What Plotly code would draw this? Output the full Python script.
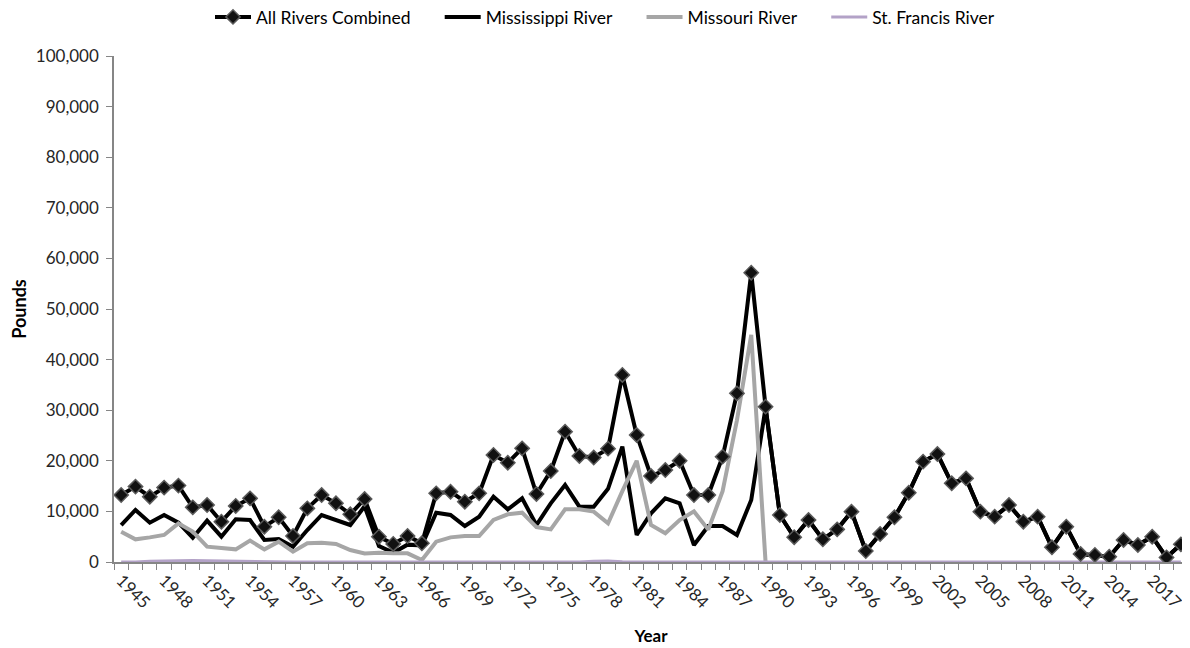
import plotly.graph_objects as go

years = list(range(1945, 2020))

all_rivers = [13240, 14900, 12900, 14700, 15100, 10800, 11260, 7960, 11070, 12580,
              6980, 8830, 5140, 10600, 13240, 11600, 9420, 12450, 5000, 3560,
              5140, 3690, 13570, 13900, 11920, 13570, 21150, 19630, 22460, 13440,
              17980, 25760, 20950, 20650, 22400, 36960, 25100, 17000, 18180, 20020,
              13240, 13240, 20820, 33330, 57180, 30700, 9290, 4900, 8300, 4480,
              6450, 9950, 2170, 5530, 8830, 13700, 19830, 21340, 15550, 16530,
              9950, 8960, 11260, 7960, 8960, 2900, 6980, 1580, 1400, 1050,
              4350, 3360, 5000, 900, 3490]

mississippi = [7310, 10280, 7770, 9290, 7770, 4800, 8170, 5000, 8430, 8300,
               4350, 4550, 3030, 6320, 9290, 8300, 7310, 11000, 3160, 1850,
               3430, 3290, 9750, 9290, 7110, 8960, 12910, 10410, 12580, 7310,
               11600, 15220, 10940, 10940, 14460, 22790, 5340, 9620, 12580, 11600,
               3360, 7110, 7110, 5340, 12250, 30500, 9290, 4900, 8300, 4480,
               6450, 9950, 2170, 5530, 8830, 13700, 19830, 21340, 15550, 16530,
               9950, 8960, 11260, 7960, 8960, 2900, 6980, 1580, 1400, 1050,
               4350, 3360, 5000, 900, 3490]

missouri = [6000, 4480, 4870, 5340, 7640, 6000, 3030, 2700, 2500, 4220,
            2500, 4020, 2040, 3690, 3820, 3560, 2370, 1700, 1840, 1710,
            1710, 400, 4020, 4870, 5140, 5140, 8300, 9420, 9750, 6900,
            6450, 10410, 10410, 9950, 7640, 14000, 20000, 7310, 5670, 8300,
            10000, 6400, 14000, 28000, 44900, 0] + [None] * 29

st_francis = [0, 0, 150, 250, 300, 300, 250, 200, 100, 0,
              0, 0, 0, 0, 0, 0, 0, 0, 0, 0,
              0, 0, 0, 0, 0, 0, 0, 0, 0, 0,
              0, 0, 0, 150, 200, 50, 0, 0, 0, 0] + [0] * 35

y_ticks = list(range(0, 100001, 10000))
x_label_years = list(range(1945, 2018, 3))

FONT = "Lato"
PAD = "\u2003\u2002\u2009"
W, H = 1182, 640  # page body has an 8px margin
fig = go.Figure()

fig.add_trace(go.Scatter(x=years, y=mississippi, name="Mississippi River" + PAD, mode="lines",
                         line=dict(color="#000000", width=4), legendrank=2))
fig.add_trace(go.Scatter(x=years, y=missouri, name="Missouri River" + PAD, mode="lines",
                         line=dict(color="#A6A6A6", width=4), legendrank=3))
fig.add_trace(go.Scatter(x=years, y=st_francis, name="St. Francis River", mode="lines",
                         line=dict(color="#B3A2C7", width=3), legendrank=4))
fig.add_trace(go.Scatter(x=years, y=all_rivers, name="All Rivers Combined" + PAD, mode="lines+markers",
                         line=dict(color="#000000", width=4),
                         marker=dict(symbol="diamond", size=11, color="#111111",
                                     line=dict(color="#5a5a5a", width=1.5)),
                         legendrank=1))

fig.update_layout(
    width=W, height=H,
    margin=dict(l=106, r=2, t=48, b=86, autoexpand=False),
    paper_bgcolor="white", plot_bgcolor="white",
    font=dict(family=FONT, size=17, color="#262626"),
    showlegend=True,
    legend=dict(orientation="h", xref="container", yref="container",
                x=202 / W, xanchor="left", y=1 - 9 / H, yanchor="middle",
                font=dict(family=FONT, size=17.5, color="#000000"),
                itemwidth=36, traceorder="normal", tracegroupgap=0),
    xaxis=dict(
        range=[1944.5, 2019.5], showgrid=False, zeroline=False, automargin=False,
        showline=True, linecolor="#868686", linewidth=1.5,
        tickmode="array", tickvals=x_label_years, ticktext=[str(y) for y in x_label_years],
        ticks="", tickangle=45, tickfont=dict(family=FONT, size=17, color="#262626"),
        minor=dict(tickmode="linear", tick0=1944.5, dtick=1, ticks="outside",
                   ticklen=6, tickcolor="#868686", tickwidth=1, showgrid=False),
        title=dict(text="<b>Year</b>", font=dict(family=FONT, size=17, color="#000000"),
                   standoff=19),
    ),
    yaxis=dict(
        range=[0, 100000], showgrid=False, zeroline=False, automargin=False,
        showline=True, linecolor="#868686", linewidth=1.5,
        tickmode="array", tickvals=y_ticks, ticktext=[f"{v:,}" for v in y_ticks],
        ticks="outside", ticklen=6, tickcolor="#868686",
        tickfont=dict(family=FONT, size=17, color="#262626"),
        ticklabelstandoff=4,
        title=dict(text="<b>Pounds</b>", font=dict(family=FONT, size=18, color="#000000"),
                   standoff=7),
    ),
)

fig.write_html("out.html")
